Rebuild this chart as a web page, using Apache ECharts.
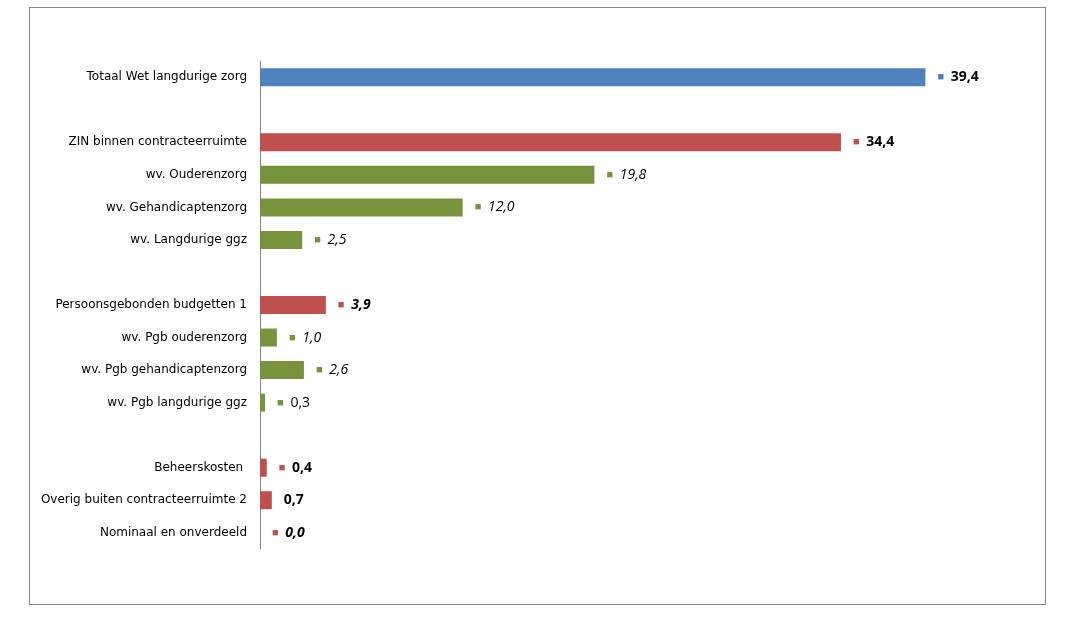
<!DOCTYPE html>
<html><head><meta charset="utf-8">
<script src="https://cdn.jsdelivr.net/npm/echarts@6/dist/echarts.min.js"></script>
<style>
body{margin:0;background:#fff}
#frame{position:absolute;left:29px;top:7px;width:1015px;height:596px;border:1px solid #868686}
#main{position:absolute;left:0;top:0;width:1065px;height:620px}
</style></head><body>
<div id="frame"></div>
<div id="main"></div>
<script>
// rijen (lege naam = witregel)
var categories = ['Totaal Wet langdurige zorg', '', 'ZIN binnen contracteerruimte', 'wv. Ouderenzorg', 'wv. Gehandicaptenzorg', 'wv. Langdurige ggz', ' ',
  'Persoonsgebonden budgetten 1', 'wv. Pgb ouderenzorg', 'wv. Pgb gehandicaptenzorg', 'wv. Pgb langdurige ggz', '  ',
  'Beheerskosten ', 'Overig buiten contracteerruimte 2', 'Nominaal en onverdeeld'];
var values = [39.4, null, 34.4, 19.8, 12.0, 2.5, null, 3.9, 1.0, 2.6, 0.3, null, 0.4, 0.7, 0.0];
// kleur: b = blauw, r = rood, g = groen
var kleuren = ['b', '', 'r', 'g', 'g', 'g', '', 'r', 'g', 'g', 'g', '', 'r', 'r', 'r'];
// labelstijl: n normaal, b vet, i cursief, bi vet cursief
var stijlen = ['b', '', 'b', 'i', 'i', 'i', '', 'bi', 'i', 'i', 'n', '', 'b', 'b', 'bi'];
var marker = [1, 0, 1, 1, 1, 1, 0, 1, 1, 1, 1, 0, 1, 0, 1];

var kleur = {b: '#4f81bd', r: '#c0504d', g: '#77933c'};

var data = values.map(function (v, i) {
  if (v === null) return null;
  return {value: v, itemStyle: {color: kleur[kleuren[i]]}};
});

var rich = {
  mb: {color: kleur.b, fontSize: 11}, mr: {color: kleur.r, fontSize: 11}, mg: {color: kleur.g, fontSize: 11},
  n: {fontSize: 14, color: '#000', fontFamily: 'Open Sans'},
  b: {fontSize: 14, color: '#000', fontWeight: 'bold', fontFamily: 'Open Sans'},
  i: {fontSize: 14, color: '#000', fontStyle: 'italic', fontFamily: 'Open Sans'},
  bi: {fontSize: 14, color: '#000', fontWeight: 'bold', fontStyle: 'italic', fontFamily: 'Open Sans'}
};

var myChart = echarts.init(document.getElementById('main'));
myChart.setOption({
  animation: false,
  grid: {left: 260, right: 45, top: 61, bottom: 71, containLabel: false},
  xAxis: {type: 'value', min: 0, max: 45, show: false},
  yAxis: {
    type: 'category', inverse: true, data: categories,
    axisLine: {lineStyle: {color: '#868686'}}, axisTick: {show: false},
    axisLabel: {color: '#000', fontSize: 12, fontFamily: 'DejaVu Sans', margin: 13}
  },
  series: [{
    type: 'bar', data: data, barWidth: 18,
    label: {
      show: true, position: 'right', distance: 12, rich: rich,
      formatter: function (p) {
        var i = p.dataIndex;
        var t = p.value.toFixed(1).replace('.', ',');
        var m = marker[i] ? '{m' + kleuren[i] + '|■}  ' : '';
        return m + '{' + stijlen[i] + '|' + t + '}';
      }
    }
  }]
});
</script>
</body></html>
